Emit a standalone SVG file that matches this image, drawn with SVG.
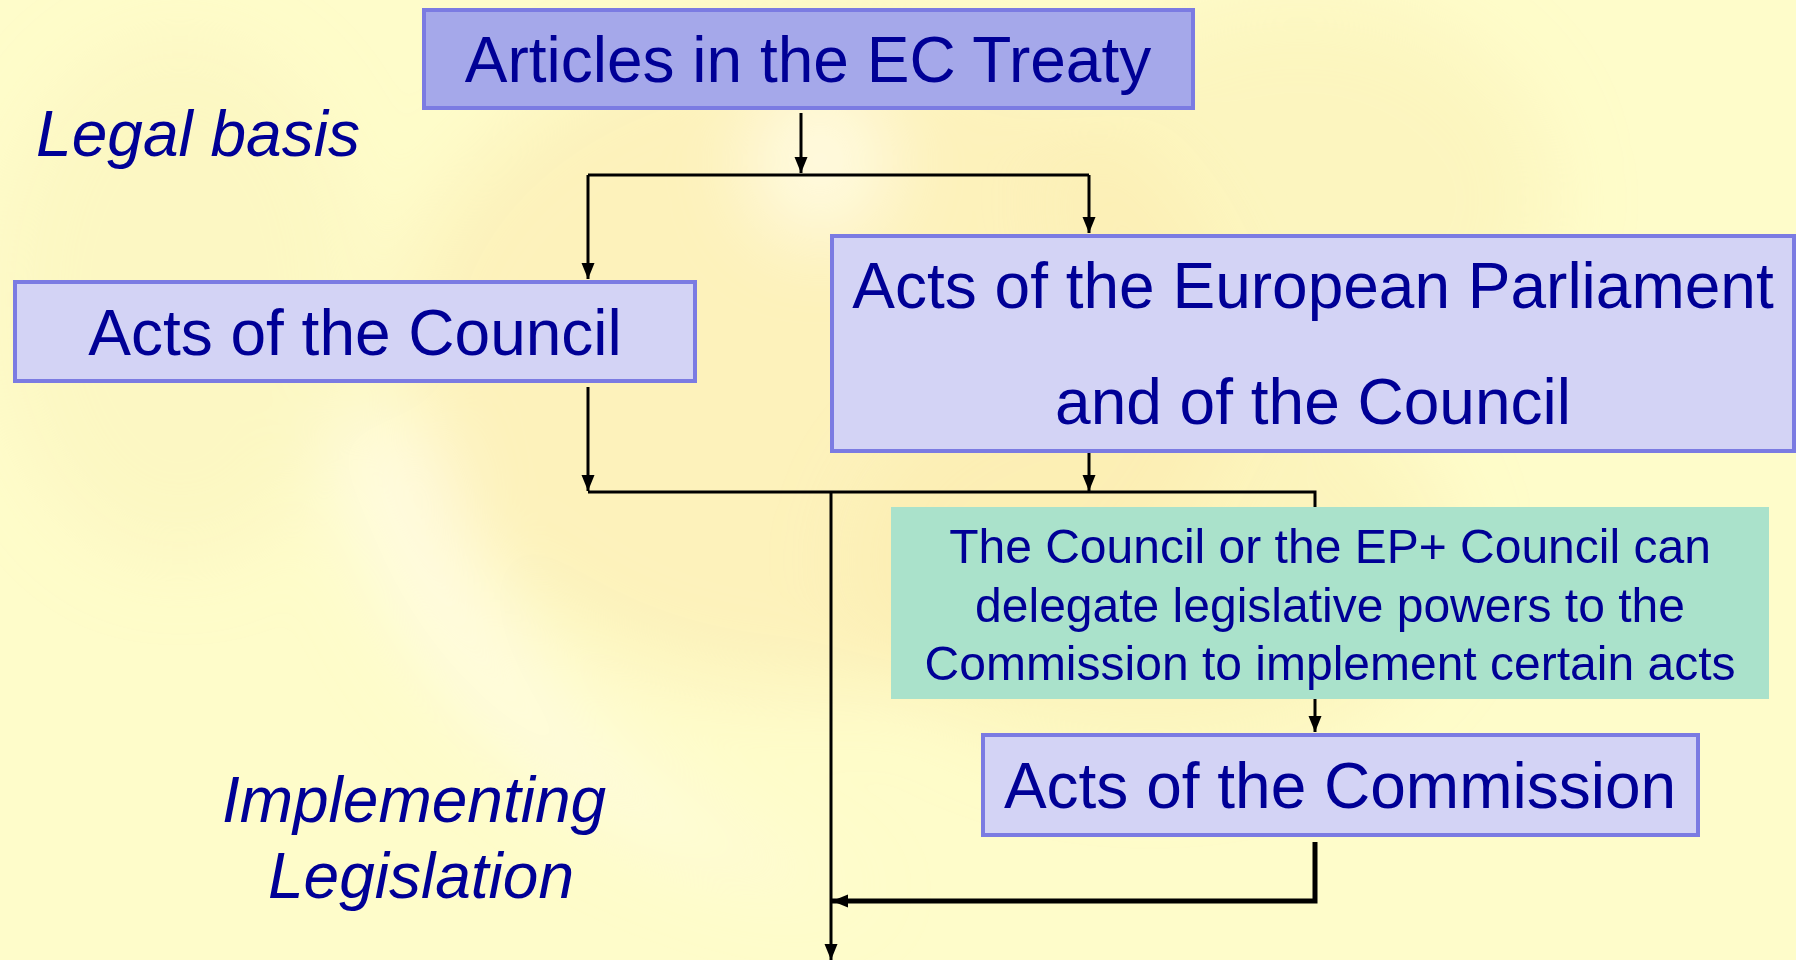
<svg xmlns="http://www.w3.org/2000/svg" width="1796" height="960" viewBox="0 0 1796 960">
<defs>
<style>
.box{fill:#d3d3f5;stroke:#7b7be2;stroke-width:4}
.top{fill:#a5a8ea;stroke:#7b7be2;stroke-width:4}
.green{fill:#aae2cb}
.t{font-family:"Liberation Sans",Arial,sans-serif;fill:#000096;text-anchor:middle}
.big{font-size:64px}
.mid{font-size:48px}
.it{font-style:italic}
.c{fill:none;stroke:#000;stroke-width:3}
.ct{fill:none;stroke:#000;stroke-width:5}
</style>
<marker id="ah" viewBox="0 0 16 16" refX="16" refY="8" markerWidth="16" markerHeight="16" markerUnits="userSpaceOnUse" orient="auto">
<path d="M0,1.5 L16,8 L0,14.5 Z" fill="#000"/>
</marker>
<filter id="blur" x="-50%" y="-50%" width="200%" height="200%"><feGaussianBlur stdDeviation="40"/></filter>
</defs>
<rect width="1796" height="960" fill="#fefcca"/>
<g id="background" filter="url(#blur)">
<ellipse cx="820" cy="360" rx="420" ry="330" fill="#fbeaae" opacity="0.55"/>
<ellipse cx="1300" cy="200" rx="250" ry="200" fill="#fbeeb2" opacity="0.45"/>
<ellipse cx="1150" cy="560" rx="300" ry="200" fill="#fbeaae" opacity="0.45"/>
<ellipse cx="820" cy="160" rx="70" ry="80" fill="#fffbe8" opacity="0.8"/>
<path d="M330,420 C360,640 520,820 780,880 L880,900 C600,800 470,640 430,420 Z" fill="#fffbe6" opacity="0.8"/>
<ellipse cx="180" cy="300" rx="180" ry="260" fill="#fbefb8" opacity="0.4"/>
</g>
<g id="connectors">
<path class="c" d="M801,113 V173" marker-end="url(#ah)"/>
<path class="c" d="M588,175 H1089"/>
<path class="c" d="M588,175 V279" marker-end="url(#ah)"/>
<path class="c" d="M1089,175 V233" marker-end="url(#ah)"/>
<path class="c" d="M588,387 V491" marker-end="url(#ah)"/>
<path class="c" d="M1089,452 V491" marker-end="url(#ah)"/>
<path class="c" d="M588,492 H1315 V507"/>
<path class="c" d="M831,492 V960" marker-end="url(#ah)"/>
<path class="c" d="M1315,699 V732" marker-end="url(#ah)"/>
<path class="ct" d="M1315,842 V901 H832" marker-end="url(#ah)"/>
</g>
<g id="articles">
<rect class="top" x="424" y="10" width="769" height="98"/>
<text class="t big" x="808" y="82">Articles in the EC Treaty</text>
</g>
<g id="legal-basis">
<text class="t big it" x="198" y="156">Legal basis</text>
</g>
<g id="acts-council">
<rect class="box" x="15" y="282" width="680" height="99"/>
<text class="t big" x="355" y="355">Acts of the Council</text>
</g>
<g id="acts-ep-council">
<rect class="box" x="832" y="236" width="962" height="215"/>
<text class="t big" x="1313" y="308">Acts of the European Parliament</text>
<text class="t big" x="1313" y="424">and of the Council</text>
</g>
<g id="delegation">
<rect class="green" x="891" y="507" width="878" height="192"/>
<text class="t mid" x="1330" y="563">The Council or the EP+ Council can</text>
<text class="t mid" x="1330" y="622">delegate legislative powers to the</text>
<text class="t mid" x="1330" y="680">Commission to implement certain acts</text>
</g>
<g id="acts-commission">
<rect class="box" x="983" y="735" width="715" height="100"/>
<text class="t big" x="1340" y="808">Acts of the Commission</text>
</g>
<g id="implementing">
<text class="t big it" x="414" y="822">Implementing</text>
<text class="t big it" x="421" y="898">Legislation</text>
</g>
</svg>
